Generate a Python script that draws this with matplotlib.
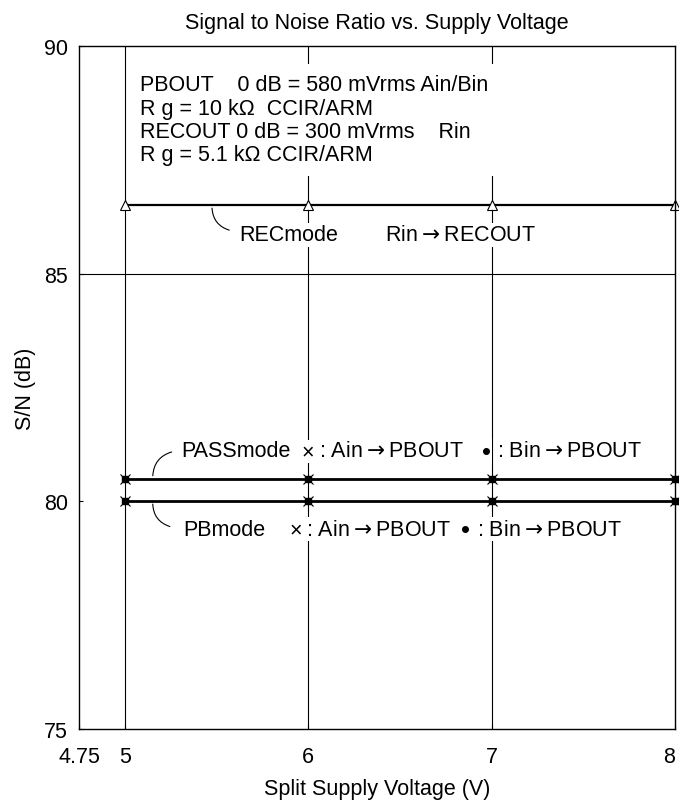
import matplotlib
matplotlib.use('Agg')
import matplotlib.pyplot as plt
from matplotlib.patches import Rectangle

plt.rcParams['font.family'] = ['Liberation Sans', 'DejaVu Sans']
FS = 15.5
plt.rcParams['font.size'] = FS

# data
voltage = [5, 6, 7, 8]
sn_rec = [86.5, 86.5, 86.5, 86.5]
sn_pass = [80.5, 80.5, 80.5, 80.5]
sn_pb = [80.0, 80.0, 80.0, 80.0]
x_ticks = [4.75, 5, 6, 7, 8]
y_ticks = [75, 80, 85, 90]

fig = plt.figure(figsize=(6.79, 8.03), dpi=100)
ax = fig.add_axes([79 / 679, 73 / 803, 596 / 679, 683 / 803])

# grid lines
for v in [5, 6, 7]:
    ax.axvline(v, color='black', linewidth=0.8, zorder=1)
ax.axhline(85, color='black', linewidth=0.8, zorder=1)

# data series
ax.plot(voltage, sn_rec, color='black', linewidth=1.6, marker='^', markersize=7,
        markerfacecolor='white', markeredgecolor='black', markeredgewidth=0.8,
        clip_on=False, zorder=3)
for s in (sn_pass, sn_pb):
    ax.plot(voltage, s, color='black', linewidth=2.0, zorder=3, clip_on=False)
    ax.plot(voltage, s, linestyle='none', marker='x', markersize=7,
            color='black', markeredgewidth=0.8, clip_on=False, zorder=4)
    ax.plot(voltage, s, linestyle='none', marker='s', markersize=4,
            color='black', clip_on=False, zorder=4)

ax.set_xlim(4.75, 8)
ax.set_ylim(75, 90)
ax.set_xticks(x_ticks)
ax.set_xticklabels([str(t) for t in x_ticks])
ax.set_yticks(y_ticks)
ax.tick_params(direction='in', length=3, labelsize=FS)
ax.tick_params(axis='x', pad=12)
ax.tick_params(axis='y', pad=8)
ax.get_xticklabels()[-1].set_horizontalalignment('right')
for sp in ax.spines.values():
    sp.set_linewidth(1.0)
    sp.set_zorder(5)

ax.set_xlabel('Split Supply Voltage (V)', fontsize=FS, labelpad=8)
ax.set_ylabel('S/N (dB)', fontsize=FS, labelpad=6)
ax.set_title('Signal to Noise Ratio vs. Supply Voltage', fontsize=FS, pad=13)

# condition text block on a white panel that hides the grid
ax.add_patch(Rectangle((5.028, 87.15), 2.018, 2.46, facecolor='white',
                       edgecolor='none', zorder=2))
info = ['PBOUT    0 dB = 580 mVrms Ain/Bin',
        'R g = 10 k\u03a9  CCIR/ARM',
        'RECOUT 0 dB = 300 mVrms    Rin',
        'R g = 5.1 k\u03a9 CCIR/ARM']
for i, line in enumerate(info):
    ax.text(5.083, 89.15 - i * 0.512, line, fontsize=FS, va='center',
            ha='left', zorder=6)

# leader arcs
arc = dict(arrowstyle='-', color='black', linewidth=0.8)
ax.annotate('', xy=(5.475, 86.5), xytext=(5.584, 85.94),
            arrowprops=dict(arc, connectionstyle='arc3,rad=-0.4'))
ax.annotate('', xy=(5.152, 80.5), xytext=(5.27, 81.1),
            arrowprops=dict(arc, connectionstyle='arc3,rad=0.4'))
ax.annotate('', xy=(5.152, 80.0), xytext=(5.26, 79.43),
            arrowprops=dict(arc, connectionstyle='arc3,rad=-0.4'))

# mode labels (white boxes hide grid lines behind the text)
box = dict(facecolor='white', edgecolor='none', pad=1)


def label(x, y, s, ha='left', **kw):
    ax.text(x, y, s, va='center', ha=ha, bbox=box, zorder=6, **kw)


arrow = r'$\rightarrow$'
label(5.625, 85.85, 'RECmode')
label(6.42, 85.85, 'Rin' + arrow + 'RECOUT')

label(5.31, 81.11, 'PASSmode')
label(6.0, 81.09, '\u00d7', ha='center')
label(6.06, 81.11, ': Ain' + arrow + 'PBOUT')
label(6.97, 81.09, '\u2022', ha='center', fontsize=FS + 3)
label(7.03, 81.11, ': Bin' + arrow + 'PBOUT')

label(5.32, 79.39, 'PBmode')
label(5.93, 79.37, '\u00d7', ha='center')
label(5.99, 79.39, ': Ain' + arrow + 'PBOUT')
label(6.86, 79.37, '\u2022', ha='center', fontsize=FS + 3)
label(6.92, 79.39, ': Bin' + arrow + 'PBOUT')

fig.savefig('out.png', dpi=100)
